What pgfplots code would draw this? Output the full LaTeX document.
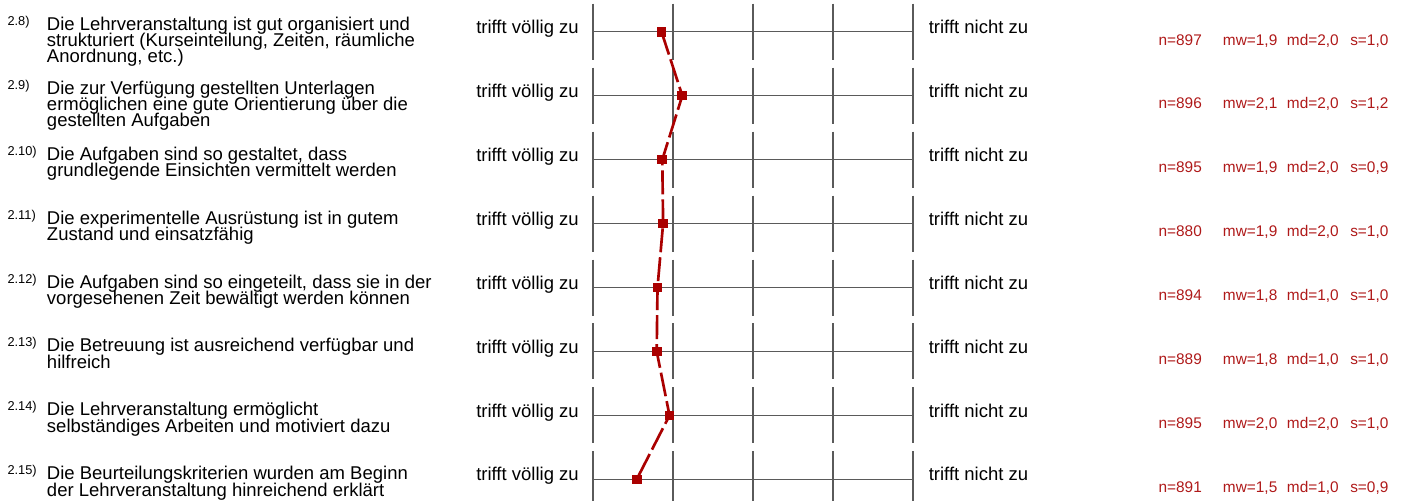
\documentclass[border=0pt]{standalone}
\usepackage{pgfplots}
\pgfplotsset{compat=1.18}
\usepackage{fontspec}
\setmainfont{Liberation Sans}
\definecolor{mred}{RGB}{170,0,0}
\definecolor{tred}{RGB}{175,25,25}
\definecolor{gridg}{RGB}{90,90,90}
\newcommand\fq{\fontsize{13.875pt}{16pt}\selectfont}
\newcommand\fn{\fontsize{9.6pt}{11pt}\selectfont}
\newcommand\fs{\fontsize{11.55pt}{13pt}\selectfont}
% c = row centre, b = first baseline, #7 = line spacing (px)
\newcommand\qrow[7]{%
  \node[anchor=base west,inner sep=0pt,font=\fn] at (7.3,{#2-5}) {#3};
  \node[anchor=base west,inner sep=0pt,font=\fq] at (46.7,#2) {#4};
  \node[anchor=base west,inner sep=0pt,font=\fq] at (46.7,{#2+#7}) {#5};
  \node[anchor=base west,inner sep=0pt,font=\fq] at (46.7,{#2+2*#7}) {#6};
  \node[anchor=base west,inner sep=0pt,font=\fq] at (476,{#1+1.6}) {trifft völlig zu};
  \node[anchor=base west,inner sep=0pt,font=\fq] at (928.5,{#1+1.6}) {trifft nicht zu};
}
\newcommand\stats[5]{%
  \node[anchor=base west,inner sep=0pt,font=\fs,text=tred] at (1158.3,{#1+13.3}) {n=#2};
  \node[anchor=base west,inner sep=0pt,font=\fs,text=tred] at (1222.7,{#1+13.3}) {mw=#3};
  \node[anchor=base west,inner sep=0pt,font=\fs,text=tred] at (1286.7,{#1+13.3}) {md=#4};
  \node[anchor=base west,inner sep=0pt,font=\fs,text=tred] at (1350,{#1+13.3}) {s=#5};
}
\begin{document}
\begin{tikzpicture}[x=0.75pt,y=-0.75pt]
\begin{axis}[at={(444.525pt,0pt)}, anchor=north west, scale only axis,
  width=240pt, height=375.75pt, xmin=1, xmax=5,
  ymin=0.50430, ymax=8.33855, y dir=reverse, hide axis, clip=false]
\pgfplotsinvokeforeach{1,...,8}{
  \draw[gridg, line width=1pt] (axis cs:1,#1) -- (axis cs:5,#1);
  \draw[gridg, line width=1.2pt] (axis cs:1,{#1-0.4378}) -- (axis cs:1,{min(#1+0.4378,8.33855)});
  \draw[gridg, line width=1.2pt] (axis cs:2,{#1-0.4378}) -- (axis cs:2,{min(#1+0.4378,8.33855)});
  \draw[gridg, line width=1.2pt] (axis cs:3,{#1-0.4378}) -- (axis cs:3,{min(#1+0.4378,8.33855)});
  \draw[gridg, line width=1.2pt] (axis cs:4,{#1-0.4378}) -- (axis cs:4,{min(#1+0.4378,8.33855)});
  \draw[gridg, line width=1.2pt] (axis cs:5,{#1-0.4378}) -- (axis cs:5,{min(#1+0.4378,8.33855)});
}
\addplot[mred, line width=2pt, dash pattern=on 18pt off 3.75pt,
  mark=square*, mark size=3.25pt, mark options={solid, fill=mred, draw=mred, line width=0pt}]
  coordinates {(1.86,1) (2.12,2) (1.87,3) (1.88,4) (1.81,5) (1.80,6) (1.96,7) (1.55,8)};
\end{axis}
\qrow{31.70}{30.70}{2.8)}{Die Lehrveranstaltung ist gut organisiert und}{strukturiert (Kurseinteilung, Zeiten, räumliche}{Anordnung, etc.)}{15.9}
\qrow{95.65}{94.65}{2.9)}{Die zur Verfügung gestellten Unterlagen}{ermöglichen eine gute Orientierung über die}{gestellten Aufgaben}{15.9}
\qrow{159.60}{160.10}{2.10)}{Die Aufgaben sind so gestaltet, dass}{grundlegende Einsichten vermittelt werden}{}{16.6}
\qrow{223.55}{224.05}{2.11)}{Die experimentelle Ausrüstung ist in gutem}{Zustand und einsatzfähig}{}{16.6}
\qrow{287.50}{288.00}{2.12)}{Die Aufgaben sind so eingeteilt, dass sie in der}{vorgesehenen Zeit bewältigt werden können}{}{16.6}
\qrow{351.45}{351.95}{2.13)}{Die Betreuung ist ausreichend verfügbar und}{hilfreich}{}{16.6}
\qrow{415.40}{415.90}{2.14)}{Die Lehrveranstaltung ermöglicht}{selbständiges Arbeiten und motiviert dazu}{}{16.6}
\qrow{479.35}{479.85}{2.15)}{Die Beurteilungskriterien wurden am Beginn}{der Lehrveranstaltung hinreichend erklärt}{}{16.6}
\stats{31.70}{897}{1,9}{2,0}{1,0}
\stats{95.65}{896}{2,1}{2,0}{1,2}
\stats{159.60}{895}{1,9}{2,0}{0,9}
\stats{223.55}{880}{1,9}{2,0}{1,0}
\stats{287.50}{894}{1,8}{1,0}{1,0}
\stats{351.45}{889}{1,8}{1,0}{1,0}
\stats{415.40}{895}{2,0}{2,0}{1,0}
\stats{479.35}{891}{1,5}{1,0}{0,9}
\pgfresetboundingbox
\useasboundingbox (0,0) rectangle (1405,501);
\end{tikzpicture}
\end{document}
